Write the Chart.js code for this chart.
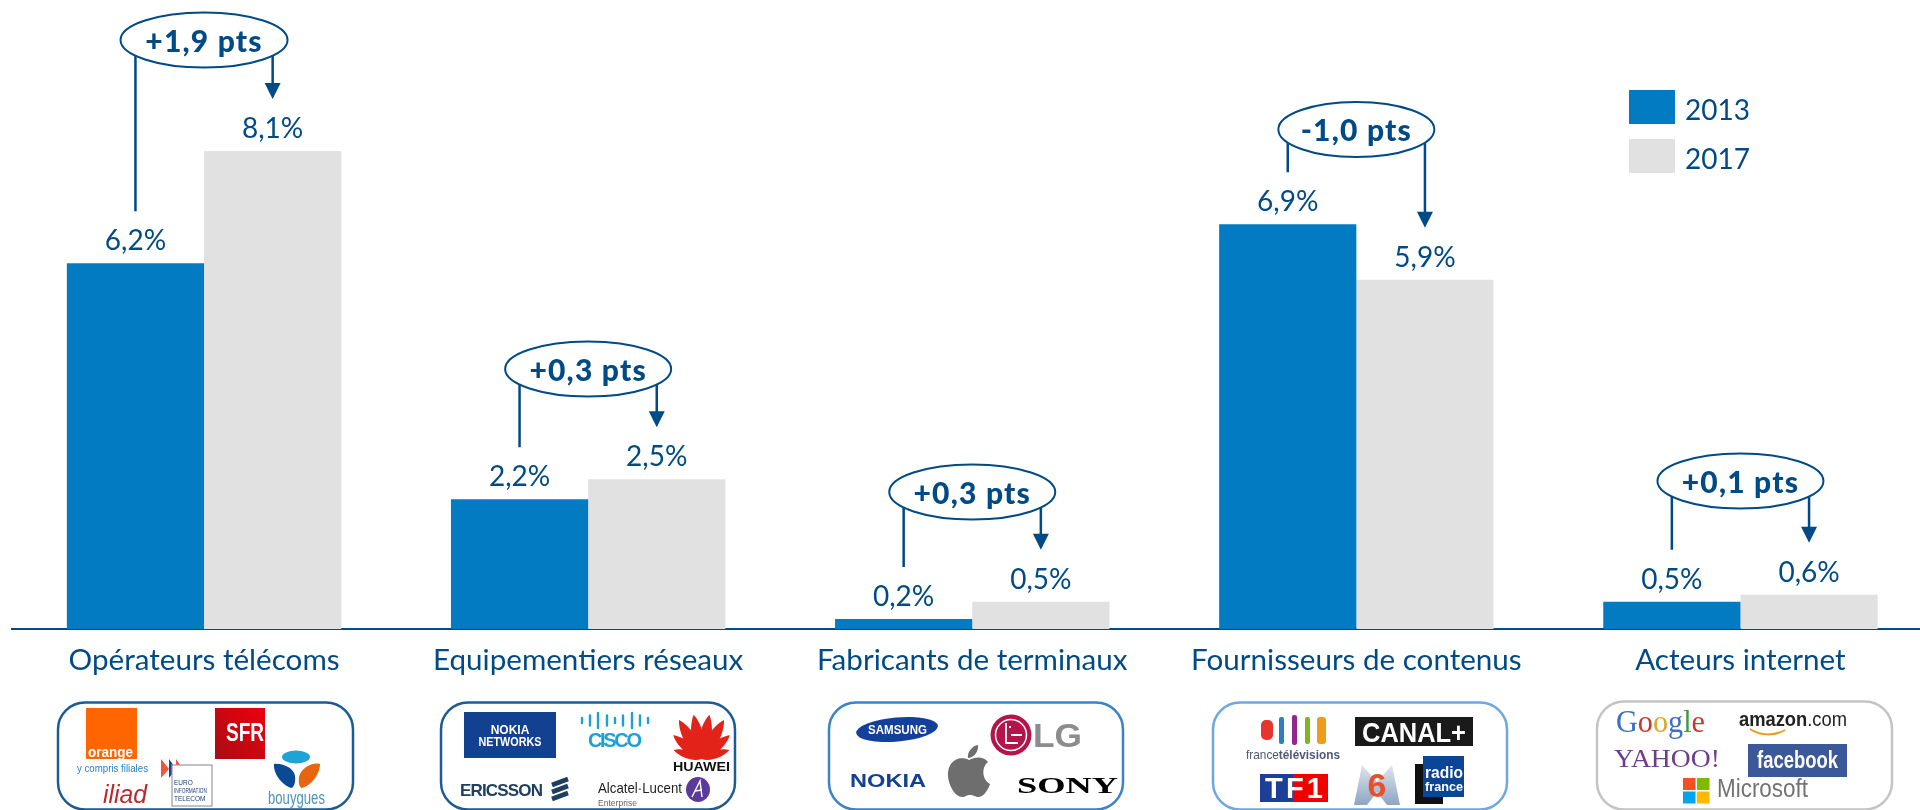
<!DOCTYPE html>
<html lang="fr">
<head>
<meta charset="utf-8">
<title>Opérateurs, équipementiers, terminaux, contenus, internet : 2013 / 2017</title>
<script src="https://cdn.jsdelivr.net/npm/chart.js@4/dist/chart.umd.min.js"></script>
<style>
    html, body { margin: 0; padding: 0; background: #fff; width: 1920px; height: 810px; overflow: hidden; }
    #wrap { position: relative; width: 1920px; height: 810px; overflow: hidden; }
    #chart { position: absolute; left: 0; top: 0; }
    #logos { position: absolute; left: 0; top: 0; }
    #logos text { font-family: "Liberation Sans", sans-serif; }
    #logos .serif { font-family: "Liberation Serif", serif; }
</style>
</head>
<body>
<div id="wrap">
    <canvas id="chart" width="1940" height="810"></canvas>
    <svg id="logos" width="1920" height="810" viewBox="0 0 1920 810" xmlns="http://www.w3.org/2000/svg">
        <defs>
            <linearGradient id="sfrGrad" x1="1" y1="0" x2="0" y2="1">
                <stop offset="0" stop-color="#ee0010"/><stop offset="1" stop-color="#a80d12"/>
            </linearGradient>
            <linearGradient id="m6Grad" x1="0" y1="0" x2="0" y2="1">
                <stop offset="0" stop-color="#dfe5ee"/><stop offset="1" stop-color="#8ea5c2"/>
            </linearGradient>
            <path id="petal" d="M0 0 C-9 -12 -7 -34 0 -45 C7 -34 9 -12 0 0 Z" fill="#e2231a"/>
        </defs>

        <!-- logo boxes -->
        <g fill="none" stroke-width="2.5">
            <rect x="58" y="702.5" width="295" height="107" rx="27" stroke="#1d5b94"/>
            <rect x="441" y="702.5" width="294" height="107" rx="27" stroke="#1d5b94"/>
            <rect x="829" y="702.5" width="294" height="107" rx="27" stroke="#3b82c9"/>
            <rect x="1213" y="702.5" width="294" height="107" rx="27" stroke="#6fa8e0"/>
            <rect x="1597" y="701.5" width="295" height="108" rx="27" stroke="#c4c4c4"/>
        </g>

        <!-- operateurs -->
        <rect x="86" y="708" width="51" height="51" fill="#ff6600"/>
        <text x="88" y="757" font-size="14" font-weight="bold" fill="#fff" textLength="45" lengthAdjust="spacingAndGlyphs">orange</text>
        <text x="77" y="772" font-size="11" fill="#2a7fc1" textLength="71" lengthAdjust="spacingAndGlyphs">y compris filiales</text>
        <rect x="215" y="708" width="50" height="51" fill="url(#sfrGrad)"/>
        <text x="226" y="741" font-size="25" font-weight="bold" fill="#fff" textLength="38" lengthAdjust="spacingAndGlyphs">SFR</text>
        <text x="103" y="803" font-size="25" font-style="italic" fill="#b5292f" textLength="44" lengthAdjust="spacingAndGlyphs">iliad</text>
        <path d="M161 759 L169 769 L161 778 Z" fill="#f0543c"/>
        <path d="M169 759 L176 769 L169 778 Z" fill="#1c3f9a"/>
        <path d="M176 759 L183 769 L176 778 Z" fill="#f0543c"/>
        <rect x="172" y="765" width="40" height="41" fill="#fff" stroke="#9a9a9a" stroke-width="1.2"/>
        <g font-size="6.5" fill="#1c3f78">
            <text x="174" y="785">EURO</text>
            <text x="174" y="793" textLength="33" lengthAdjust="spacingAndGlyphs">INFORMATION</text>
            <text x="174" y="801">TELECOM</text>
        </g>
        <ellipse cx="296" cy="757" rx="14" ry="6.5" fill="#1fa3d5"/>
        <path d="M274 764 C282 763 294 768 295 776 C296 784 293 788 291 788 C284 786 273 775 274 764 Z" fill="#0a4a94"/>
        <path d="M320 764 C312 762 301 768 299 777 C298 784 300 788 302 788 C310 786 320 775 320 764 Z" fill="#e8650f"/>
        <text x="268" y="804" font-size="19" fill="#4d93b8" textLength="57" lengthAdjust="spacingAndGlyphs">bouygues</text>

        <!-- equipementiers -->
        <rect x="464" y="712" width="92" height="46" fill="#124191"/>
        <g font-size="12" font-weight="bold" fill="#fff" text-anchor="middle">
            <text x="510" y="734">NOKIA</text>
            <text x="510" y="746" textLength="63" lengthAdjust="spacingAndGlyphs">NETWORKS</text>
        </g>
        <g stroke="#1ba0d7" stroke-width="2.4" stroke-linecap="round">
            <path d="M582 718 V723 M590 715.5 V725.5 M598 713 V728 M607 715.5 V725.5 M615 718 V723 M623 715.5 V725.5 M632 713 V728 M640 715.5 V725.5 M648 718 V723"/>
        </g>
        <text x="588" y="747" font-size="20" font-weight="bold" fill="#1ba0d7" textLength="54">CISCO</text>
        <g transform="translate(701.5 759)">
            <use href="#petal" transform="rotate(-72) scale(.65)"/>
            <use href="#petal" transform="rotate(-50) scale(.82)"/>
            <use href="#petal" transform="rotate(-30)"/>
            <use href="#petal" transform="rotate(-10)"/>
            <use href="#petal" transform="rotate(10)"/>
            <use href="#petal" transform="rotate(30)"/>
            <use href="#petal" transform="rotate(50) scale(.82)"/>
            <use href="#petal" transform="rotate(72) scale(.65)"/>
        </g>
        <text x="673" y="771" font-size="13.5" font-weight="bold" fill="#111" textLength="57" lengthAdjust="spacingAndGlyphs">HUAWEI</text>
        <text x="460" y="796" font-size="17" font-weight="bold" fill="#1f3f60" textLength="83">ERICSSON</text>
        <g stroke="#1f3f60" stroke-width="4.6">
            <path d="M552 785 L568 779 M552 792 L568 786 M552 799 L568 793"/>
        </g>
        <text x="598" y="793" font-size="15" fill="#222" textLength="84" lengthAdjust="spacingAndGlyphs">Alcatel·Lucent</text>
        <text x="598" y="806" font-size="9" fill="#666" textLength="39" lengthAdjust="spacingAndGlyphs">Enterprise</text>
        <ellipse cx="698" cy="789.5" rx="12" ry="12.5" fill="#5a3a9a"/>
        <path d="M692 797 L700 781 L702 797 M695 791 L702 790" fill="none" stroke="#fff" stroke-width="1.4"/>

        <!-- terminaux -->
        <ellipse cx="897" cy="729.5" rx="41" ry="12" transform="rotate(-5 897 729.5)" fill="#12409a"/>
        <text x="868" y="734" font-size="12.5" font-weight="bold" fill="#fff" textLength="59" lengthAdjust="spacingAndGlyphs">SAMSUNG</text>
        <circle cx="1011" cy="735" r="20.5" fill="#b5134a"/>
        <circle cx="1011" cy="735" r="15.5" fill="none" stroke="#fff" stroke-width="1.5"/>
        <path d="M1006 723 V743 H1018 M1011 735 H1022 M1009 727 h2" fill="none" stroke="#fff" stroke-width="1.8"/>
        <text x="1033" y="747" font-size="33" font-weight="bold" fill="#8c8c8c" textLength="49" lengthAdjust="spacingAndGlyphs">LG</text>
        <path d="M969 760 C962 756 950 758 948 772 C947 784 955 797 962 797 C966 797 966 795 970 795 C974 795 975 797 979 797 C984 797 989 788 990 784 C982 780 981 767 988 762 C983 756 975 757 969 760 Z" fill="#6e6e6e"/>
        <path d="M978 745 C979 752 973 758 968 758 C967 752 972 746 978 745 Z" fill="#6e6e6e"/>
        <text x="850" y="787" font-size="18" font-weight="bold" fill="#124191" textLength="76" lengthAdjust="spacingAndGlyphs">NOKIA</text>
        <text class="serif" x="1017" y="793" font-size="23" font-weight="bold" fill="#000" textLength="101" lengthAdjust="spacingAndGlyphs">SONY</text>

        <!-- contenus -->
        <g>
            <rect x="1261" y="720" width="12" height="20" rx="5" fill="#e5352d"/>
            <rect x="1279" y="717" width="5" height="27" rx="2" fill="#2b7fc3"/>
            <rect x="1292" y="715" width="5" height="30" rx="2" fill="#93278f"/>
            <rect x="1305" y="717" width="5" height="27" rx="2" fill="#7fb51f"/>
            <rect x="1317" y="717" width="9" height="27" rx="3" fill="#ee9b1e"/>
        </g>
        <text x="1246" y="759" font-size="13" fill="#4f5878" textLength="94" lengthAdjust="spacingAndGlyphs">france<tspan font-weight="bold">télévisions</tspan></text>
        <rect x="1355" y="717" width="118" height="29" fill="#1a1a1a"/>
        <text x="1362" y="742" font-size="27" font-weight="bold" fill="#fff" textLength="104" lengthAdjust="spacingAndGlyphs">CANAL+</text>
        <rect x="1260" y="774" width="33" height="28" fill="#1c3f9a"/>
        <rect x="1293" y="774" width="35" height="28" fill="#f00000"/>
        <text x="1265" y="798" font-size="29" font-weight="bold" fill="#fff" textLength="58">TF1</text>
        <path d="M1354 805 L1362 765 L1377 782 L1392 765 L1400 805 L1387 805 L1377 792 L1367 805 Z" fill="url(#m6Grad)"/>
        <text x="1377" y="797" font-size="34" font-weight="bold" fill="#e8502a" text-anchor="middle">6</text>
        <rect x="1415" y="764" width="28" height="40" fill="#111"/>
        <rect x="1423" y="756" width="41" height="41" fill="#0d4596"/>
        <text x="1425" y="778" font-size="16" font-weight="bold" fill="#fff" textLength="38" lengthAdjust="spacingAndGlyphs">radio</text>
        <text x="1425" y="791" font-size="13" font-weight="bold" fill="#fff" textLength="38" lengthAdjust="spacingAndGlyphs">france</text>

        <!-- internet -->
        <text class="serif" x="1616" y="732" font-size="31" textLength="89" lengthAdjust="spacingAndGlyphs"><tspan fill="#3a6fc4">G</tspan><tspan fill="#c9372c">o</tspan><tspan fill="#d8a928">o</tspan><tspan fill="#3a6fc4">g</tspan><tspan fill="#3f9a3f">l</tspan><tspan fill="#c9372c">e</tspan></text>
        <text x="1739" y="726" font-size="20" fill="#222" textLength="108" lengthAdjust="spacingAndGlyphs"><tspan font-weight="bold">amazon</tspan>.com</text>
        <path d="M1750 729 C1760 736 1775 736 1785 730" fill="none" stroke="#f09a1c" stroke-width="2"/>
        <text class="serif" x="1614" y="767" font-size="26" fill="#6f3c8f" textLength="106" lengthAdjust="spacingAndGlyphs">YAHOO!</text>
        <rect x="1748" y="744" width="99" height="33" fill="#3b5998"/>
        <text x="1757" y="768" font-size="23" font-weight="bold" fill="#fff" textLength="81" lengthAdjust="spacingAndGlyphs">facebook</text>
        <rect x="1683" y="778" width="12.5" height="12" fill="#f25022"/>
        <rect x="1697" y="778" width="12.5" height="12" fill="#7fba00"/>
        <rect x="1683" y="791.5" width="12.5" height="12" fill="#00a4ef"/>
        <rect x="1697" y="791.5" width="12.5" height="12" fill="#ffb900"/>
        <text x="1717" y="797" font-size="25" fill="#737373" textLength="91" lengthAdjust="spacingAndGlyphs">Microsoft</text>
    </svg>
</div>

<script>
const categories = ["Opérateurs télécoms", "Equipementiers réseaux", "Fabricants de terminaux", "Fournisseurs de contenus", "Acteurs internet"];
const seriesNames = ["2013", "2017"];
// the printed labels are these rounded to one decimal
const values2013 = [6.2, 2.2, 0.17, 6.86, 0.46];
const values2017 = [8.1, 2.54, 0.46, 5.92, 0.58];
const deltaLabels = ["+1,9 pts", "+0,3 pts", "+0,3 pts", "-1,0 pts", "+0,1 pts"];

const BLUE = "#027bc2";
const GREY = "#e2e1e2";
const INK = "#004a86";
const FONT = "Lato, sans-serif";

// where each oval sits, in canvas pixels (not data)
const ovalCentreY = [40, 369, 492, 129.5, 481];
const ovalRadiusX = [83.5, 83, 83, 78, 83];

function valueLabel(v) {
    return v.toFixed(1).replace(".", ",") + "%";
}

// value labels above the bars
const barLabels = {
    id: "barLabels",
    afterDatasetsDraw(chart) {
        const ctx = chart.ctx;
        ctx.save();
        ctx.font = "28px " + FONT;
        ctx.fillStyle = INK;
        ctx.textAlign = "center";
        ctx.textBaseline = "alphabetic";
        chart.data.datasets.forEach((ds, i) => {
            chart.getDatasetMeta(i).data.forEach((bar, j) => {
                ctx.fillText(valueLabel(ds.data[j]), bar.x, bar.y - 13);
            });
        });
        ctx.restore();
    }
};

// ovals with the change in points, a plain line down to the 2013 label, an arrow down to the 2017 label
const deltaOvals = {
    id: "deltaOvals",
    afterDatasetsDraw(chart) {
        const ctx = chart.ctx;
        const first = chart.getDatasetMeta(0).data;
        const second = chart.getDatasetMeta(1).data;
        ctx.save();
        deltaLabels.forEach((label, j) => {
            const cy = ovalCentreY[j];
            const tipY = second[j].y - 52;
            ctx.strokeStyle = INK;
            ctx.fillStyle = INK;
            ctx.lineWidth = 2.5;
            ctx.beginPath();
            ctx.moveTo(first[j].x, cy);
            ctx.lineTo(first[j].x, first[j].y - 52);
            ctx.moveTo(second[j].x, cy);
            ctx.lineTo(second[j].x, tipY - 10);
            ctx.stroke();
            ctx.beginPath();
            ctx.moveTo(second[j].x - 8, tipY - 16);
            ctx.lineTo(second[j].x + 8, tipY - 16);
            ctx.lineTo(second[j].x, tipY);
            ctx.closePath();
            ctx.fill();

            const cx = (first[j].x + second[j].x) / 2;
            ctx.lineWidth = 2;
            ctx.beginPath();
            ctx.ellipse(cx, cy, ovalRadiusX[j], 27.5, 0, 0, Math.PI * 2);
            ctx.fillStyle = "#fff";
            ctx.fill();
            ctx.stroke();

            ctx.fillStyle = INK;
            ctx.font = "900 30px " + FONT;
            ctx.letterSpacing = "1.2px";
            ctx.textAlign = "center";
            ctx.textBaseline = "alphabetic";
            ctx.fillText(label, cx, cy + 11.5);
            ctx.letterSpacing = "0px";
        });
        ctx.restore();
    }
};

// legend at the top right, built from the datasets
const cornerLegend = {
    id: "cornerLegend",
    afterDraw(chart) {
        const ctx = chart.ctx;
        ctx.save();
        ctx.font = "28px " + FONT;
        ctx.textBaseline = "alphabetic";
        chart.data.datasets.forEach((ds, i) => {
            const top = 90 + i * 49;
            ctx.fillStyle = ds.backgroundColor;
            ctx.fillRect(1629, top, 46, 34);
            ctx.fillStyle = INK;
            ctx.fillText(ds.label, 1685, top + 30);
        });
        ctx.restore();
    }
};

new Chart(document.getElementById("chart"), {
    type: "bar",
    data: {
        labels: categories,
        datasets: [
            { label: seriesNames[0], data: values2013, backgroundColor: BLUE },
            { label: seriesNames[1], data: values2017, backgroundColor: GREY }
        ]
    },
    options: {
        responsive: false,
        animation: false,
        layout: { padding: { left: 12, right: 7.5, top: 0, bottom: 0 } },
        datasets: { bar: { categoryPercentage: 0.7144, barPercentage: 1 } },
        plugins: { legend: { display: false }, tooltip: { enabled: false } },
        scales: {
            x: {
                afterFit(scale) { scale.height = 181; },
                grid: { display: false, drawTicks: false },
                border: { color: INK, width: 2 },
                ticks: {
                    color: INK,
                    font: { family: FONT, size: 29.6 },
                    padding: 14,
                    maxRotation: 0,
                    autoSkip: false
                }
            },
            y: {
                display: false,
                min: 0,
                max: 629 / 59
            }
        }
    },
    plugins: [barLabels, deltaOvals, cornerLegend]
});
</script>
</body>
</html>
